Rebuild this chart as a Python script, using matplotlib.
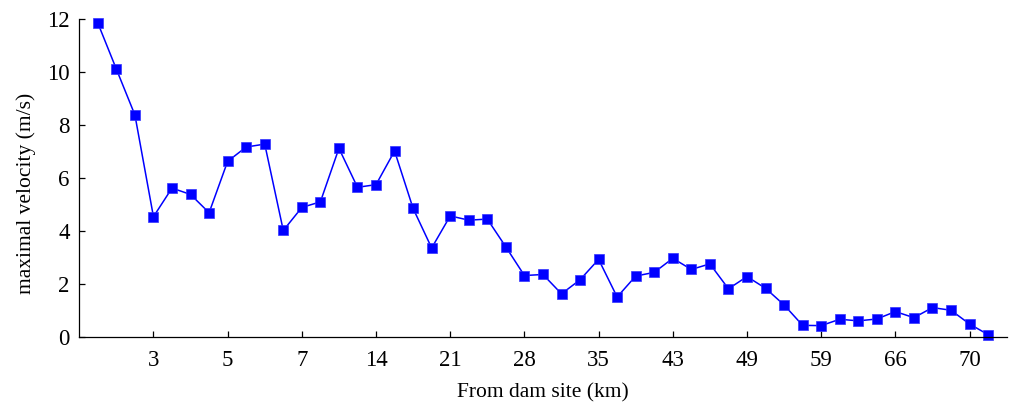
import numpy as np
import matplotlib
matplotlib.use('Agg')
import matplotlib.pyplot as plt

plt.rcParams['font.family'] = ['Liberation Serif', 'DejaVu Serif']

# maximal velocity at each section (m/s)
velocity = [11.86, 10.12, 8.39, 4.55, 5.63, 5.39, 4.70, 6.64, 7.18, 7.29,
            4.03, 4.90, 5.11, 7.13, 5.66, 5.76, 7.03, 4.86, 3.37, 4.58,
            4.42, 4.46, 3.41, 2.33, 2.37, 1.64, 2.17, 2.94, 1.52, 2.31,
            2.45, 2.98, 2.56, 2.77, 1.83, 2.29, 1.85, 1.22, 0.45, 0.44,
            0.68, 0.62, 0.69, 0.97, 0.74, 1.12, 1.02, 0.50, 0.10]
tick_labels = ['3', '5', '7', '14', '21', '28', '35', '43', '49', '59', '66', '70']
tick_index = [3, 7, 11, 15, 19, 23, 27, 31, 35, 39, 43, 47]

x = np.arange(len(velocity))

fig = plt.figure(figsize=(10.11, 4.07), dpi=100)
ax = fig.add_axes([0.0784, 0.1713, 0.9173, 0.7813])
ax.plot(x, velocity, color='#0000ff', lw=1.1, marker='s', ms=7,
        mfc='#0000ff', mec='#3333ff', mew=0.5, clip_on=False)

ax.set_xlim(-1, 49)
ax.set_ylim(0, 12)
ax.set_xticks(tick_index)
ax.set_xticklabels(tick_labels)
ax.set_yticks(range(0, 13, 2))
ax.tick_params(direction='in', length=4, width=0.9, labelsize=16.5)
ax.tick_params(axis='x', pad=9)
ax.tick_params(axis='y', pad=7)
for s in ['top', 'right']:
    ax.spines[s].set_visible(False)
for s in ['left', 'bottom']:
    ax.spines[s].set_linewidth(0.9)

ax.set_xlabel('From dam site (km)', fontsize=15.5, labelpad=9)
ax.set_ylabel('maximal velocity (m/s)', fontsize=15.5)
ax.yaxis.set_label_coords(-0.047, 0.454)

fig.savefig('out.png', dpi=100)
